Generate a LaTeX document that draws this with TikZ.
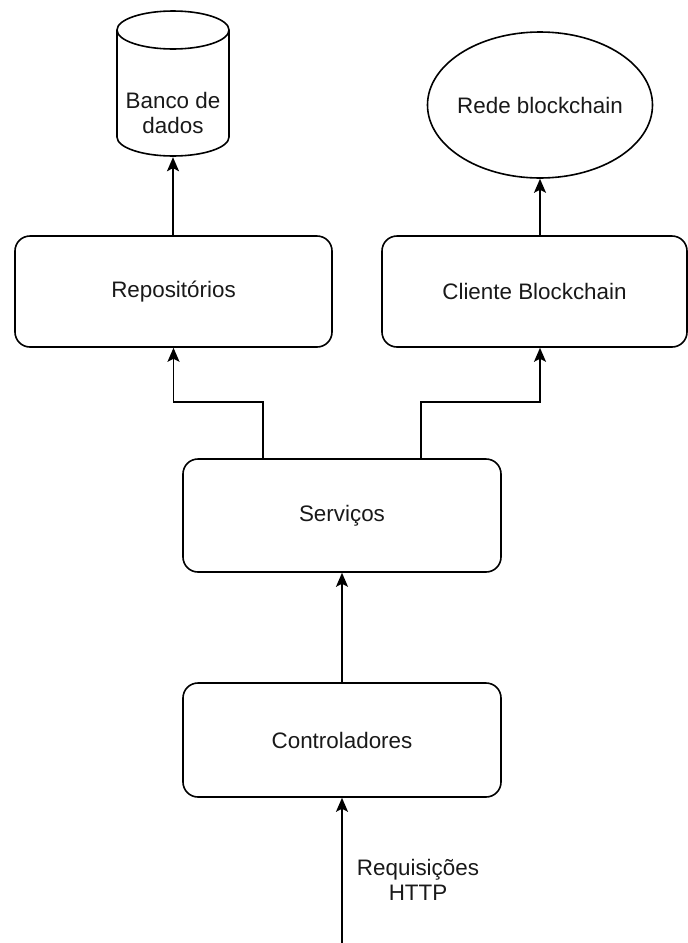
\documentclass[tikz,border=0pt]{standalone}
\usepackage{fontspec}
\setmainfont{Liberation Sans}
\usetikzlibrary{shapes.geometric,arrows.meta}
\begin{document}
\begin{tikzpicture}[x=1pt,y=-1pt,
  every node/.style={font=\fontsize{22.4}{24.5}\selectfont, text=black!90, align=center},
  box/.style={draw, rounded corners=15pt, line width=1.6pt, inner sep=0pt},
  arr/.style={line width=1.6pt, -{Stealth[length=14pt,width=12pt,inset=3pt]}}]
\useasboundingbox (0,0) rectangle (688,943);

% layer boxes
\node[box, minimum width=317pt, minimum height=111pt] (repo) at (173.5,291.5) {Repositórios};
\node[box, minimum width=305pt, minimum height=111pt] (cli) at (534.5,291.5) {Cliente Blockchain};
\node[box, minimum width=318pt, minimum height=113pt] (serv) at (342,515.5) {Serviços};
\node[box, minimum width=318pt, minimum height=114pt] (ctrl) at (342,740) {Controladores};

% blockchain network
\node[draw, ellipse, line width=1.6pt, minimum width=225pt, minimum height=146pt, inner sep=0pt,
      label={center:Rede blockchain}] (rede) at (540,105) {};

% database cylinder
\draw[line width=1.6pt] (173,30) ellipse [x radius=56, y radius=19];
\draw[line width=1.6pt] (117,30) -- (117,137) arc[start angle=180, end angle=0, x radius=56, y radius=19] -- (229,30);
\node[minimum width=112pt, minimum height=88pt, inner sep=0pt] (db) at (173,113) {Banco de\\dados};

% request entry
\coordinate (httpin) at (342,943);
\node (req) at (418,880) {Requisições\\HTTP};

% connectors
\draw[arr] (repo.north -| db.south) -- (db.south);
\draw[arr] ([xshift=5.5pt]cli.north) -- (rede.south);
\draw[arr] ([xshift=-79pt]serv.north) -- ++(0,-56) -| (repo.south);
\draw[arr] ([xshift=79pt]serv.north) -- ++(0,-56) -| ([xshift=5.5pt]cli.south);
\draw[arr] (ctrl.north) -- (serv.south);
\draw[arr] (httpin) -- (ctrl.south);
\end{tikzpicture}
\end{document}
